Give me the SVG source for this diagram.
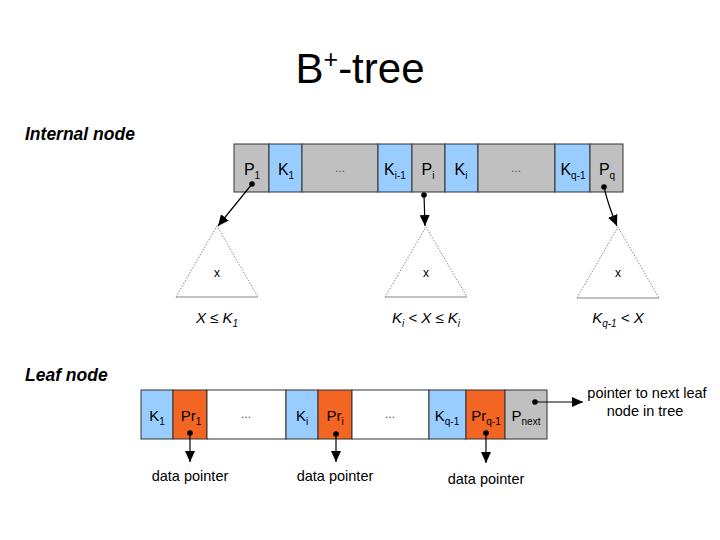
<svg xmlns="http://www.w3.org/2000/svg" width="720" height="540" viewBox="0 0 720 540">
<defs>
<marker id="ah" markerUnits="userSpaceOnUse" markerWidth="12" markerHeight="10" refX="11" refY="5" orient="auto">
<path d="M0,0 L11,5 L0,10 Z" fill="#000"/>
</marker>
<style>
text{font-family:"Liberation Sans",Arial,sans-serif;fill:#000}
.cell{stroke:#333;stroke-width:1}
.g{fill:#C0C0C0}
.b{fill:#99CCFF}
.o{fill:#F26522}
.w{fill:#FFFFFF}
.lbl{font-size:16px;text-anchor:middle}
.ll{font-size:15px;text-anchor:middle}
.dots{font-size:12px;fill:#555;text-anchor:middle}
.sub{font-size:10px}
.tri{fill:none;stroke:#888;stroke-width:1;stroke-dasharray:1.5,1.5}
.base{stroke:#888;stroke-width:1.2}
.cond{font-size:15px;font-style:italic;text-anchor:middle}
.conn{stroke:#000;stroke-width:1.2;fill:none;marker-end:url(#ah)}
.dot{fill:#000}
.cap{font-size:14.5px;text-anchor:middle}
.hdr{font-size:17.5px;font-weight:bold;font-style:italic}
</style>
</defs>
<rect width="720" height="540" fill="#fff"/>
<text x="360" y="83" font-size="42" text-anchor="middle">B<tspan font-size="25" dy="-15">+</tspan><tspan dy="15">-tree</tspan></text>
<text class="hdr" x="25" y="140">Internal node</text>
<text class="hdr" x="25" y="381">Leaf node</text>

<g id="internal-node">
<rect class="cell g" x="234" y="144" width="35" height="48"/>
<rect class="cell b" x="269" y="144" width="33" height="48"/>
<rect class="cell g" x="302" y="144" width="76" height="48"/>
<rect class="cell b" x="378" y="144" width="34" height="48"/>
<rect class="cell g" x="412" y="144" width="33" height="48"/>
<rect class="cell b" x="445" y="144" width="33" height="48"/>
<rect class="cell g" x="478" y="144" width="77" height="48"/>
<rect class="cell b" x="555" y="144" width="35" height="48"/>
<rect class="cell g" x="590" y="144" width="33" height="48"/>
<text class="lbl" x="252" y="175">P<tspan class="sub" dy="4">1</tspan></text>
<text class="lbl" x="286" y="175">K<tspan class="sub" dy="4">1</tspan></text>
<text class="dots" x="340" y="172">...</text>
<text class="lbl" x="395" y="175">K<tspan class="sub" dy="4">i-1</tspan></text>
<text class="lbl" x="428" y="175">P<tspan class="sub" dy="4">i</tspan></text>
<text class="lbl" x="461" y="175">K<tspan class="sub" dy="4">i</tspan></text>
<text class="dots" x="516" y="172">...</text>
<text class="lbl" x="573" y="175">K<tspan class="sub" dy="4">q-1</tspan></text>
<text class="lbl" x="607" y="175">P<tspan class="sub" dy="4">q</tspan></text>
<circle class="dot" cx="252" cy="184" r="2.8"/>
<circle class="dot" cx="424" cy="195" r="2.8"/>
<circle class="dot" cx="604" cy="187" r="2.8"/>
</g>

<g id="subtree-1">
<path class="tri" d="M176,297 L217,226 L258,297"/>
<line class="base" x1="176" y1="297" x2="258" y2="297"/>
<text x="217" y="277" font-size="12" text-anchor="middle">x</text>
<text class="cond" x="217" y="323">X ≤ K<tspan class="sub" dy="4">1</tspan></text>
</g>
<g id="subtree-i">
<path class="tri" d="M385,297 L426,227 L467,297"/>
<line class="base" x1="385" y1="297" x2="467" y2="297"/>
<text x="426" y="277" font-size="12" text-anchor="middle">x</text>
<text class="cond" x="426" y="323">K<tspan class="sub" dy="4">i</tspan><tspan dy="-4"> &lt; X ≤ K</tspan><tspan class="sub" dy="4">i</tspan></text>
</g>
<g id="subtree-q">
<path class="tri" d="M577,298 L618,227 L659,298"/>
<line class="base" x1="577" y1="298" x2="659" y2="298"/>
<text x="618" y="277" font-size="12" text-anchor="middle">x</text>
<text class="cond" x="618" y="323">K<tspan class="sub" dy="4">q-1</tspan><tspan dy="-4"> &lt; X</tspan></text>
</g>

<g id="leaf-node">
<rect class="cell b" x="141" y="390" width="32" height="49"/>
<rect class="cell o" x="173" y="390" width="34" height="49"/>
<rect class="cell w" x="207" y="390" width="79" height="49"/>
<rect class="cell b" x="286" y="390" width="32" height="49"/>
<rect class="cell o" x="318" y="390" width="34" height="49"/>
<rect class="cell w" x="352" y="390" width="77" height="49"/>
<rect class="cell b" x="429" y="390" width="37" height="49"/>
<rect class="cell o" x="466" y="390" width="39" height="49"/>
<rect class="cell g" x="505" y="390" width="42" height="49"/>
<text class="ll" x="157" y="421">K<tspan class="sub" dy="4">1</tspan></text>
<text class="ll" x="191" y="421">Pr<tspan class="sub" dy="4">1</tspan></text>
<text class="dots" x="246" y="418">...</text>
<text class="ll" x="302" y="421">K<tspan class="sub" dy="4">i</tspan></text>
<text class="ll" x="335" y="421">Pr<tspan class="sub" dy="4">i</tspan></text>
<text class="dots" x="390" y="418">...</text>
<text class="ll" x="447" y="421">K<tspan class="sub" dy="4">q-1</tspan></text>
<text class="ll" x="486" y="421">Pr<tspan class="sub" dy="4">q-1</tspan></text>
<text class="ll" x="526" y="421">P<tspan class="sub" dy="4">next</tspan></text>
<circle class="dot" cx="190" cy="433" r="2.8"/>
<circle class="dot" cx="336" cy="434" r="2.8"/>
<circle class="dot" cx="486" cy="433" r="2.8"/>
<circle class="dot" cx="535" cy="402" r="2.8"/>
</g>

<g id="labels">
<text class="cap" x="190" y="481">data pointer</text>
<text class="cap" x="335" y="481">data pointer</text>
<text class="cap" x="486" y="484">data pointer</text>
<text class="cap" x="647" y="398">pointer to next leaf</text>
<text class="cap" x="645" y="416">node in tree</text>
</g>

<g id="connectors">
<path class="conn" d="M252,184 L218,226"/>
<path class="conn" d="M424,195 L425,226"/>
<path class="conn" d="M604,187 Q608,205 617,226"/>
<path class="conn" d="M190,433 L190,462"/>
<path class="conn" d="M336,434 L336,462"/>
<path class="conn" d="M486,433 L486,463"/>
<path class="conn" d="M535,402 L583,402"/>
</g>
</svg>
